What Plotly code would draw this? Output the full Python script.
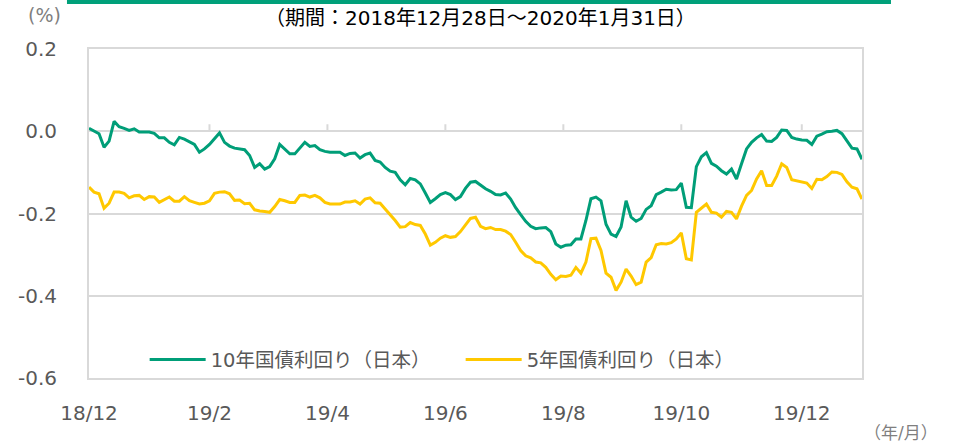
import plotly.graph_objects as go

# 10-year JGB yield (%), sampled evenly across the period
jgb10 = [0.007, 0.000, -0.006, -0.039, -0.024, 0.024, 0.011, 0.007, 0.002, 0.006,
         -0.002, -0.002, -0.002, -0.005, -0.016, -0.016, -0.027, -0.033, -0.015, -0.019,
         -0.025, -0.032, -0.051, -0.043, -0.032, -0.019, -0.004, -0.027, -0.036, -0.041,
         -0.043, -0.045, -0.059, -0.088, -0.079, -0.092, -0.086, -0.067, -0.032, -0.043,
         -0.055, -0.055, -0.041, -0.027, -0.037, -0.035, -0.045, -0.049, -0.051, -0.051,
         -0.051, -0.059, -0.054, -0.053, -0.065, -0.057, -0.053, -0.071, -0.075, -0.088,
         -0.097, -0.100, -0.118, -0.130, -0.115, -0.118, -0.128, -0.150, -0.173, -0.164,
         -0.154, -0.149, -0.154, -0.166, -0.159, -0.139, -0.124, -0.122, -0.132, -0.140,
         -0.146, -0.154, -0.155, -0.150, -0.165, -0.186, -0.203, -0.219, -0.231, -0.237,
         -0.235, -0.234, -0.244, -0.274, -0.282, -0.277, -0.276, -0.262, -0.262, -0.217,
         -0.164, -0.160, -0.169, -0.226, -0.250, -0.256, -0.233, -0.169, -0.209, -0.219,
         -0.212, -0.190, -0.181, -0.154, -0.148, -0.141, -0.143, -0.142, -0.126, -0.185,
         -0.186, -0.086, -0.062, -0.052, -0.078, -0.085, -0.096, -0.104, -0.092, -0.116,
         -0.079, -0.043, -0.027, -0.016, -0.008, -0.024, -0.025, -0.015, 0.003, 0.002,
         -0.015, -0.019, -0.021, -0.022, -0.032, -0.012, -0.007, -0.001, 0.000, 0.002,
         -0.006, -0.023, -0.041, -0.043, -0.068]

# 5-year JGB yield (%)
jgb5 = [-0.136, -0.148, -0.152, -0.187, -0.175, -0.148, -0.148, -0.151, -0.162, -0.157,
        -0.156, -0.166, -0.159, -0.160, -0.173, -0.166, -0.160, -0.170, -0.170, -0.159,
        -0.169, -0.173, -0.177, -0.175, -0.169, -0.151, -0.148, -0.147, -0.152, -0.168,
        -0.167, -0.176, -0.175, -0.191, -0.194, -0.195, -0.197, -0.183, -0.166, -0.169,
        -0.173, -0.173, -0.156, -0.155, -0.160, -0.156, -0.162, -0.173, -0.177, -0.177,
        -0.177, -0.172, -0.172, -0.169, -0.177, -0.165, -0.162, -0.174, -0.175, -0.189,
        -0.202, -0.217, -0.233, -0.232, -0.222, -0.227, -0.229, -0.250, -0.277, -0.270,
        -0.260, -0.254, -0.258, -0.256, -0.244, -0.227, -0.212, -0.209, -0.231, -0.237,
        -0.234, -0.239, -0.239, -0.243, -0.251, -0.270, -0.290, -0.303, -0.308, -0.318,
        -0.320, -0.331, -0.348, -0.361, -0.352, -0.353, -0.350, -0.331, -0.345, -0.318,
        -0.261, -0.260, -0.290, -0.345, -0.355, -0.387, -0.367, -0.335, -0.352, -0.373,
        -0.367, -0.318, -0.307, -0.276, -0.273, -0.274, -0.271, -0.262, -0.247, -0.310,
        -0.313, -0.197, -0.187, -0.177, -0.197, -0.199, -0.209, -0.195, -0.197, -0.213,
        -0.182, -0.156, -0.144, -0.116, -0.096, -0.132, -0.132, -0.109, -0.079, -0.088,
        -0.118, -0.121, -0.124, -0.126, -0.139, -0.117, -0.118, -0.110, -0.099, -0.100,
        -0.105, -0.123, -0.136, -0.140, -0.165]

x_index = list(range(len(jgb10)))

tick_index = [0, 24, 47.5, 71, 94.5, 118, 142]
tick_labels = ["18/12", "19/2", "19/4", "19/6", "19/8", "19/10", "19/12"]

y_ticks = [0.2, 0.0, -0.2, -0.4, -0.6]
y_labels = ["0.2", "0.0", "-0.2", "-0.4", "-0.6"]

names = ["10年国債利回り（日本）", "5年国債利回り（日本）"]
colors = ["#009E78", "#FFC800"]

FONT = "DejaVu Sans, Noto Sans CJK JP, sans-serif"
GRID = "#D9D9D9"
TXT = "#595959"

fig = go.Figure()
for vals, nm, col in zip([jgb10, jgb5], names, colors):
    fig.add_trace(go.Scatter(x=x_index, y=vals, mode="lines", name=nm,
                             line=dict(color=col, width=3)))

# small upward tick marks on the zero line
shapes = []
for t in tick_index[1:]:
    shapes.append(dict(type="line", xref="x", yref="y", x0=t, x1=t,
                       ysizemode="pixel", yanchor=0, y0=0, y1=7,
                       line=dict(color=GRID, width=2)))
# top decorative bar
shapes.append(dict(type="rect", xref="paper", yref="paper",
                   x0=-0.0285, x1=1.0375, y0=1.137, y1=1.16,
                   fillcolor="#00A07A", line=dict(width=0)))

fig.update_layout(
    width=955, height=446,
    margin=dict(l=89, r=93, t=49, b=68, autoexpand=False),
    paper_bgcolor="white", plot_bgcolor="white",
    font=dict(family=FONT, size=20, color=TXT),
    showlegend=True,
    legend=dict(orientation="h", x=0.072, xanchor="left", y=0.055, yanchor="middle",
                font=dict(size=19.5, color=TXT), bgcolor="rgba(0,0,0,0)",
                itemwidth=56, entrywidth=245, traceorder="normal"),
    shapes=shapes,
    annotations=[
        dict(text="（期間：2018年12月28日～2020年1月31日）", xref="paper", yref="paper",
             x=0.506, y=1.094, xanchor="center", yanchor="middle", showarrow=False,
             font=dict(size=20, color="#000000")),
        dict(text="(%)", xref="paper", yref="paper", x=-0.057, y=1.103,
             xanchor="center", yanchor="middle", showarrow=False,
             font=dict(size=19, color="#7F7F7F")),
        dict(text="（年/月）", xref="paper", yref="paper", x=1.050, y=-0.167,
             xanchor="center", yanchor="middle", showarrow=False,
             font=dict(size=17, color="#7F7F7F")),
    ],
)
fig.update_xaxes(range=[0, len(jgb10) - 1], tickmode="array", tickvals=tick_index,
                 ticktext=tick_labels, showgrid=False, zeroline=False, automargin=False,
                 showline=True, mirror=True, linecolor=GRID, linewidth=2,
                 ticks="outside", ticklen=16, tickcolor="rgba(0,0,0,0)",
                 tickfont=dict(size=20, color=TXT))
fig.update_yaxes(range=[-0.6, 0.2], tickmode="array", tickvals=y_ticks,
                 ticktext=y_labels, showgrid=True, gridcolor=GRID, gridwidth=2,
                 zeroline=False, showline=True, mirror=True, linecolor=GRID, linewidth=2,
                 automargin=False,
                 ticks="outside", ticklen=26, tickcolor="rgba(0,0,0,0)",
                 tickfont=dict(size=20, color=TXT))

fig.write_html("out.html", config={"displayModeBar": False},
               post_script="document.body.style.margin='0';document.body.style.overflow='hidden';")
